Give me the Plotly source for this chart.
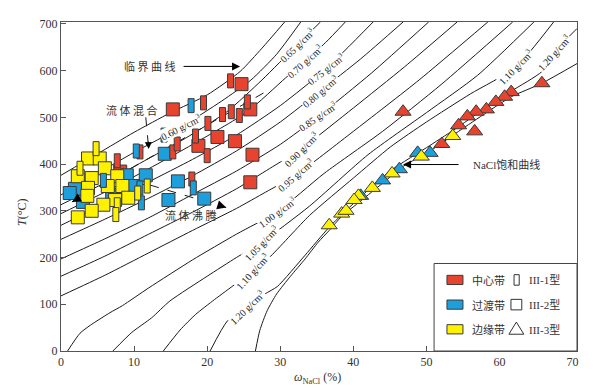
import plotly.graph_objects as go

# ---------------- data ----------------
# critical curve and NaCl saturation curve (x = wt% NaCl, t = degC)
crit_x = [0, 5, 10, 15, 20, 24.5, 27.5, 30.6]
crit_t = [376, 422, 468, 510, 548, 598, 648, 704]
sat_x = [26.6, 27.2, 28.2, 29.5, 31.4, 33.4, 35.2, 36.7, 38.4, 41.0, 44.0, 46.8, 50.5, 54.4, 58.2, 61.6, 65.8, 70.6]
sat_t = [0, 44, 86, 122, 160, 197, 233, 258, 288, 321, 359, 395, 428, 470, 510, 544, 573, 615]

# isochores (g/cm3)
d060_x = [0, 5, 10, 16.4, 22, 26, 29.5, 32.8]
d060_t = [334, 380, 425, 479, 535, 580, 635, 704]
d065_x = [0, 6, 12, 17, 22.7, 27.5, 32.3, 35.5]
d065_t = [313, 360, 412, 455, 512, 580, 655, 704]
d070_x = [0, 6, 12, 18, 25.5, 30.7, 33.4, 36.2, 38.9]
d070_t = [294, 340, 390, 442, 512, 584, 620, 660, 704]
d075_x = [0, 6, 12, 18, 24, 30, 36.2, 42.7]
d075_t = [269, 315, 362, 410, 462, 525, 603, 704]
d080_x = [0, 6, 12, 18, 24, 30, 35.5, 41, 46.8]
d080_t = [239, 282, 327, 375, 428, 490, 557, 625, 704]
d085_x = [0, 6, 12, 18, 24, 30, 35.2, 42.5, 50.3]
d085_t = [197, 240, 285, 335, 385, 442, 502, 595, 704]
d090_x = [0, 6, 12, 18, 24, 28.5, 32.9, 40, 47, 54.2]
d090_t = [160, 203, 250, 297, 347, 390, 433, 520, 608, 704]
d095_x = [0, 6, 12, 18, 24, 28, 32.1, 40, 49, 58.4]
d095_t = [118, 162, 210, 258, 305, 340, 376, 470, 580, 704]
d100_x = [0.9, 2.6, 4.0, 6.7, 8.4, 12, 18, 24, 29.6, 36, 44, 52, 61.8]
d100_t = [0, 38, 55, 82, 97, 135, 195, 250, 298, 380, 470, 570, 704]
d105_x = [7.1, 9.7, 12.4, 14.9, 20, 24, 27.4, 34, 42, 50, 57, 64.7]
d105_t = [0, 40, 71, 107, 160, 200, 232, 310, 420, 510, 590, 704]
d110_x = [14.0, 16.3, 18.4, 21, 24, 26.2, 28.5, 34, 40, 45.1, 50, 56, 62.2, 67.4]
d110_t = [0, 45, 78, 110, 145, 172, 200, 290, 370, 437, 490, 550, 607, 704]
d120_x = [20.4, 22.8, 25.5, 27.9, 29.6, 33.4, 36.7, 41, 45.1, 50.5, 54.4, 58.2, 61.6, 65.8, 67.4, 70.6]
d120_t = [0, 65, 94, 122, 138, 205, 265, 330, 386, 440, 480, 522, 556, 598, 638, 690]

iso_lbl_text = ["0.60", "0.65", "0.70", "0.75", "0.80", "0.85", "0.90", "0.95",
                "1.00", "1.05", "1.10", "1.20", "1.10", "1.20"]
iso_lbl_x = [16.4, 32.3, 33.4, 36.2, 35.5, 35.2, 32.9, 32.1, 29.6, 27.4, 26.2, 25.5, 62.2, 67.4]
iso_lbl_t = [479, 655, 620, 603, 557, 502, 433, 376, 298, 232, 172, 94, 607, 638]
iso_lbl_ang = [-27, -44, -42, -38, -40, -34, -45, -41, -36, -46, -48, -44, -46, -48]

# fluid inclusions: III-1 (tall rectangles), III-2 (squares), III-3 (triangles)
red1_x = [23.2, 19.5, 25.5, 20.1, 22.1, 23.3, 24.4, 18.4, 7.7, 10.8, 20.0, 17.9, 15.3, 15.9]
red1_t = [578, 531, 533, 487, 506, 512, 504, 460, 407, 426, 418, 368, 426, 443]
red2_x = [15.3, 24.7, 25.9, 21.4, 23.8, 26.2, 25.9, 8.1, 18.8]
red2_t = [517, 571, 517, 458, 449, 420, 361, 384, 439]
red3_x = [46.8, 65.8, 61.6, 60.7, 59.5, 58.2, 56.8, 55.6, 54.4, 56.6, 52.1]
red3_t = [512, 573, 554, 544, 533, 517, 512, 502, 483, 470, 443]

blue1_x = [17.8, 10.3, 14.1, 18.1, 5.8, 10.8, 11.0]
blue1_t = [525, 428, 462, 349, 365, 349, 317]
blue2_x = [14.2, 16.0, 14.7, 19.6, 11.6, 9.0, 1.9, 1.2, 9.9, 3.0, 7.0]
blue2_t = [422, 363, 323, 326, 376, 376, 347, 338, 353, 319, 334]
blue3_x = [50.5, 48.8, 46.3, 44.0, 41.0]
blue3_t = [424, 424, 389, 365, 332]

yel1_x = [4.8, 7.7, 10.5, 11.8, 7.5, 2.6]
yel1_t = [433, 313, 338, 353, 292, 391]
yel2_x = [3.7, 5.3, 6.0, 2.3, 4.2, 3.7, 3.6, 7.7, 8.4, 9.2, 7.4, 5.8, 4.2, 2.3, 6.4]
yel2_t = [412, 412, 391, 374, 370, 349, 332, 374, 353, 328, 323, 313, 300, 286, 353]
yel3_x = [53.6, 49.3, 45.3, 42.6, 40.7, 40.1, 38.4, 36.7, 39.0]
yel3_t = [460, 416, 380, 349, 332, 323, 294, 269, 300]

# process lines (tail -> head)
mix_x = [27.7, 1.5]
mix_t = [552, 319]
mixlbl_x = [11.6, 12.0]
mixlbl_t = [500, 432]
boil_x = [12.2, 22.6]
boil_t = [355, 307]

legend_zone = ["中心带", "过渡带", "边缘带"]
legend_type = ["III-1型", "III-2型", "III-3型"]

# ---------------- style ----------------
RED = '#E8432E'
BLUE = '#1C9FDA'
YEL = '#FFF200'
EDGE = '#3a3a3a'
LINE = '#1a1a1a'
SERIF = 'Liberation Serif, DejaVu Serif, serif'
CJK = 'Noto Sans CJK SC, sans-serif'

fig = go.Figure()

curves = [(crit_x, crit_t), (sat_x, sat_t),
          (d060_x, d060_t), (d065_x, d065_t), (d070_x, d070_t), (d075_x, d075_t),
          (d080_x, d080_t), (d085_x, d085_t), (d090_x, d090_t), (d095_x, d095_t),
          (d100_x, d100_t), (d105_x, d105_t), (d110_x, d110_t), (d120_x, d120_t)]
for xs, ts in curves:
    fig.add_trace(go.Scatter(x=xs, y=ts, mode='lines',
                             line=dict(color=LINE, width=1, shape='spline', smoothing=0.6),
                             hoverinfo='skip', showlegend=False))

for xs, ts in [(mix_x, mix_t), (mixlbl_x, mixlbl_t), (boil_x, boil_t)]:
    fig.add_trace(go.Scatter(x=xs, y=ts, mode='lines',
                             line=dict(color=LINE, width=1, dash='dash'),
                             hoverinfo='skip', showlegend=False))

mk_line = dict(color=EDGE, width=1)
for xs, ts, col in [(red2_x, red2_t, RED), (blue2_x, blue2_t, BLUE), (yel2_x, yel2_t, YEL)]:
    fig.add_trace(go.Scatter(x=xs, y=ts, mode='markers',
                             marker=dict(symbol='square', size=13, color=col, line=mk_line),
                             showlegend=False))
for xs, ts, col in [(red3_x, red3_t, RED), (blue3_x, blue3_t, BLUE), (yel3_x, yel3_t, YEL)]:
    fig.add_trace(go.Scatter(x=xs, y=ts, mode='markers',
                             marker=dict(symbol='triangle-up', size=14, color=col, line=mk_line),
                             showlegend=False))

shapes = []
for xs, ts, col in [(red1_x, red1_t, RED), (blue1_x, blue1_t, BLUE), (yel1_x, yel1_t, YEL)]:
    for xv, tv in zip(xs, ts):
        shapes.append(dict(type='rect', xref='x', yref='y', xsizemode='pixel', ysizemode='pixel',
                           xanchor=xv, yanchor=tv, x0=-3, x1=3, y0=-7, y1=7,
                           fillcolor=col, line=dict(color=EDGE, width=1), layer='above'))

# legend box (paper coords)
shapes.append(dict(type='rect', xref='paper', yref='paper', x0=0.723, x1=1.0, y0=0, y1=0.266,
                   fillcolor='white', line=dict(color='#444', width=1), layer='above'))
row_y = [0.216, 0.141, 0.066]
annotations = []
for i, col in enumerate([RED, BLUE, YEL]):
    y = row_y[i]
    shapes.append(dict(type='rect', xref='paper', yref='paper', x0=0.748, x1=0.779,
                       y0=y - 0.014, y1=y + 0.014, fillcolor=col,
                       line=dict(color=EDGE, width=1), layer='above'))
    annotations.append(dict(xref='paper', yref='paper', x=0.792, y=y, text=legend_zone[i],
                            showarrow=False, xanchor='left', yanchor='middle',
                            font=dict(family=CJK, size=11, color='#333')))
    annotations.append(dict(xref='paper', yref='paper', x=0.903, y=y, text=legend_type[i],
                            showarrow=False, xanchor='left', yanchor='middle',
                            font=dict(family=SERIF + ', ' + CJK, size=11, color='#333')))
# type symbols
shapes.append(dict(type='rect', xref='paper', yref='paper', x0=0.878, x1=0.888,
                   y0=row_y[0] - 0.016, y1=row_y[0] + 0.016, fillcolor='white',
                   line=dict(color='#333', width=1), layer='above'))
shapes.append(dict(type='rect', xref='paper', yref='paper', x0=0.872, x1=0.893,
                   y0=row_y[1] - 0.016, y1=row_y[1] + 0.016, fillcolor='white',
                   line=dict(color='#333', width=1), layer='above'))
shapes.append(dict(type='path', xref='paper', yref='paper',
                   path='M 0.868,%f L 0.897,%f L 0.8825,%f Z' % (row_y[2] - 0.015, row_y[2] - 0.015, row_y[2] + 0.022),
                   fillcolor='white', line=dict(color='#333', width=1), layer='above'))

# isochore labels
for txt, xv, tv, ang in zip(iso_lbl_text, iso_lbl_x, iso_lbl_t, iso_lbl_ang):
    annotations.append(dict(x=xv, y=tv, text=txt + ' g/cm<sup>3</sup>', showarrow=False,
                            textangle=ang, bgcolor='white', borderpad=0,
                            font=dict(family=SERIF, size=10, color='#222')))

arrow_style = dict(text='', showarrow=True, arrowhead=2, arrowwidth=1, arrowcolor='#000', standoff=0)
annotations += [
    dict(x=24.5, y=609, ax=-58, ay=0, arrowsize=1.6, **arrow_style),
    dict(x=12.1, y=609, text='临 界 曲 线', showarrow=False,
         font=dict(family=CJK, size=11, color='#333')),
    dict(x=9.7, y=515, text='流 体 混 合', showarrow=False,
         font=dict(family=CJK, size=11, color='#333')),
    dict(x=17.7, y=290, text='流 体 沸 腾', showarrow=False,
         font=dict(family=CJK, size=11, color='#333')),
    dict(x=46.8, y=399, ax=57, ay=0, arrowsize=1.6, **arrow_style),
    dict(x=61.0, y=399, text='NaCl饱和曲线', showarrow=False,
         font=dict(family=SERIF + ', ' + CJK, size=11, color='#333')),
    # arrowheads of dashed lines
    dict(x=mix_x[1], y=mix_t[1], ax=9, ay=-5, arrowsize=1.8, **arrow_style),
    dict(x=mixlbl_x[1], y=mixlbl_t[1], ax=-0.5, ay=-9, arrowsize=1.4, **arrow_style),
    dict(x=boil_x[1], y=boil_t[1], ax=-9.6, ay=-3, arrowsize=1.8, **arrow_style),
    # axis titles
    dict(xref='paper', yref='paper', x=0.498, y=-0.081, xanchor='center', yanchor='middle',
         text='<i>ω</i><sub>NaCl</sub> (%)',
         showarrow=False, font=dict(family=SERIF, size=12, color='#333')),
    dict(xref='paper', yref='paper', x=-0.076, y=0.422, xanchor='center', yanchor='middle',
         text='<i>T</i>(°C)', textangle=-90,
         showarrow=False, font=dict(family=SERIF, size=12, color='#333')),
]

axis_common = dict(showgrid=False, zeroline=False, showline=True, mirror=True,
                   linecolor='#555', linewidth=1, ticks='inside', ticklen=5,
                   tickcolor='#555', tickfont=dict(family=SERIF, size=12, color='#333'))
fig.update_layout(
    width=601, height=390,
    margin=dict(l=53, r=32, t=9, b=47),
    paper_bgcolor='white', plot_bgcolor='white',
    showlegend=False,
    xaxis=dict(range=[0, 70.6], tickvals=[0, 10, 20, 30, 40, 50, 60, 70], **axis_common),
    yaxis=dict(range=[0, 704], tickvals=[0, 100, 200, 300, 400, 500, 600, 700], **axis_common),
    shapes=shapes, annotations=annotations,
)
fig.write_html('out.html')
